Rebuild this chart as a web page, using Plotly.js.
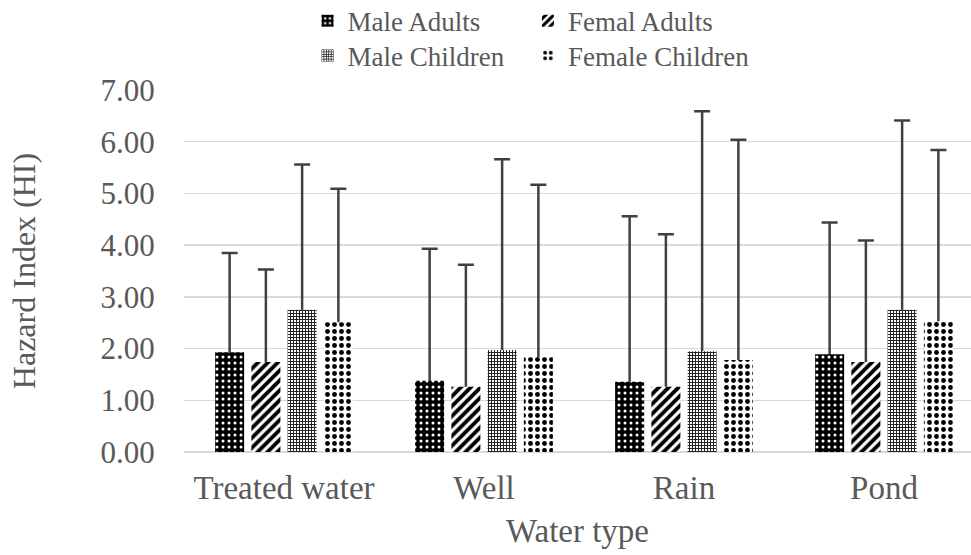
<!DOCTYPE html>
<html>
<head>
<meta charset="utf-8">
<script src="https://cdn.plot.ly/plotly-3.0.1.min.js"></script>
<style>html,body{margin:0;padding:0;background:#fff;}#chart{width:971px;height:555px;}</style>
</head>
<body>
<div id="chart"></div>
<script>
// ---- data ----
const categories = ["Treated water", "Well", "Rain", "Pond"];
const seriesNames = ["Male Adults", "Femal Adults", "Male Children", "Female Children"];
const maleAdults = [1.93, 1.38, 1.36, 1.89];
const femalAdults = [1.74, 1.26, 1.26, 1.74];
const maleChildren = [2.75, 1.97, 1.95, 2.75];
const femaleChildren = [2.51, 1.83, 1.78, 2.53];
// upper ends of the error bars
const maleAdultsUpper = [3.85, 3.93, 4.56, 4.44];
const femalAdultsUpper = [3.53, 3.62, 4.21, 4.09];
const maleChildrenUpper = [5.56, 5.66, 6.59, 6.41];
const femaleChildrenUpper = [5.09, 5.17, 6.04, 5.84];
const yTickVals = [0, 1, 2, 3, 4, 5, 6, 7];

const values = [maleAdults, femalAdults, maleChildren, femaleChildren];
const uppers = [maleAdultsUpper, femalAdultsUpper, maleChildrenUpper, femaleChildrenUpper];

const patterns = [
  {shape: ".", bgcolor: "#000000", fgcolor: "#ffffff", size: 6, solidity: 0.2, fillmode: "replace"},
  {shape: "/", bgcolor: "#ffffff", fgcolor: "#000000", size: 7, solidity: 0.55, fillmode: "replace"},
  {shape: "+", bgcolor: "#ffffff", fgcolor: "#222222", size: 3, solidity: 0.55, fillmode: "replace"},
  {shape: ".", bgcolor: "#ffffff", fgcolor: "#000000", size: 7, solidity: 0.38, fillmode: "replace"}
];
const legendIds = ["legend", "legend2", "legend3", "legend4"];
const groups = ["g0", "g1", "g2", "g3"];

const traces = [];
// error-bar carriers (drawn first, covered by the patterned bars)
for (let i = 0; i < 4; i++) {
  traces.push({
    type: "bar", x: categories, y: values[i], offsetgroup: groups[i],
    marker: {color: "rgba(0,0,0,0)", line: {width: 0}},
    showlegend: false, hoverinfo: "skip",
    error_y: {
      type: "data", symmetric: false,
      array: uppers[i].map((u, k) => u - values[i][k]),
      arrayminus: values[i],
      color: "#404040", thickness: 2.5, width: 8
    }
  });
}
for (let i = 0; i < 4; i++) {
  traces.push({
    type: "bar", x: categories, y: values[i], name: seriesNames[i], offsetgroup: groups[i],
    legend: legendIds[i],
    marker: {color: patterns[i].fgcolor, line: {width: 0}, pattern: patterns[i]}
  });
}

const fam = "'Liberation Serif', 'Times New Roman', serif";
const col = "#595959";
function mkLegend(x, y) {
  return {
    orientation: "h", x: x, xanchor: "left", y: y, yanchor: "middle",
    font: {family: fam, color: col, size: 27}, bgcolor: "rgba(0,0,0,0)"
  };
}
const layout = {
  width: 971, height: 555,
  margin: {l: 184, r: 0, t: 90, b: 103, autoexpand: false},
  paper_bgcolor: "#ffffff", plot_bgcolor: "#ffffff",
  font: {family: fam, color: col},
  barmode: "group", bargap: 0.275, bargroupgap: 0.2,
  xaxis: {
    type: "category", range: [-0.5, 3.435], showgrid: false, zeroline: false, showline: false,
    ticks: "outside", ticklen: 6, tickcolor: "rgba(0,0,0,0)",
    tickfont: {family: fam, color: col, size: 33},
    title: {text: "Water type", font: {family: fam, color: col, size: 33}, standoff: 14}
  },
  yaxis: {
    range: [0, 7], tickvals: yTickVals, tickformat: ".2f",
    showgrid: true, gridcolor: "#d9d9d9", gridwidth: 1.5,
    zeroline: true, zerolinecolor: "#d9d9d9", zerolinewidth: 1.5, showline: false,
    ticks: "outside", ticklen: 22, tickcolor: "rgba(0,0,0,0)",
    tickfont: {family: fam, color: col, size: 31},
    title: {text: "Hazard Index (HI)", font: {family: fam, color: col, size: 32}, standoff: 55}
  },
  legend: mkLegend(0.157, 1.19),
  legend2: mkLegend(0.437, 1.19),
  legend3: mkLegend(0.157, 1.094),
  legend4: mkLegend(0.437, 1.094),
  showlegend: true
};

Plotly.newPlot("chart", traces, layout, {displayModeBar: false, staticPlot: true});
</script>
</body>
</html>
